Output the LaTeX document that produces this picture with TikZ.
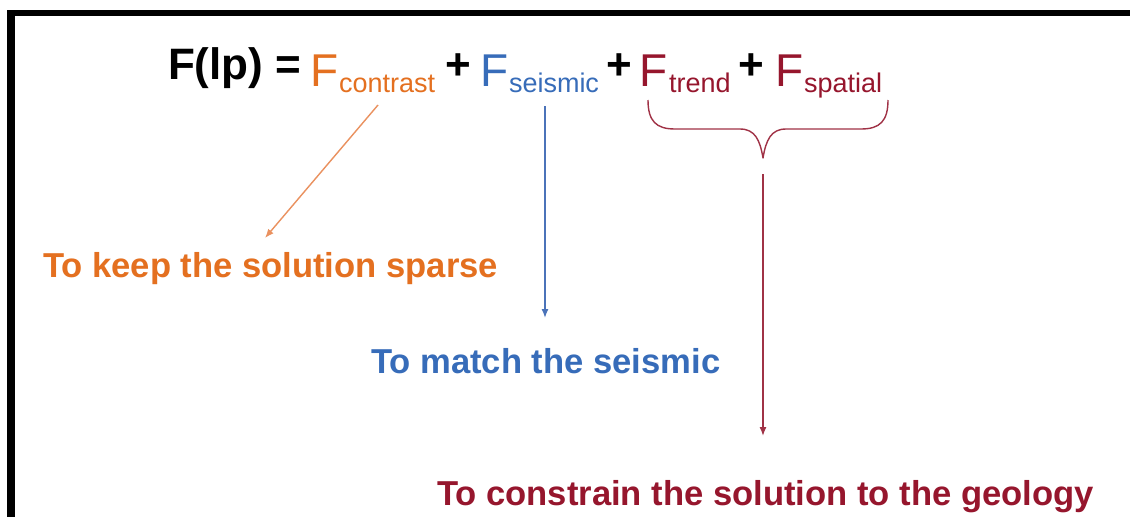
\documentclass[tikz,border=0pt]{standalone}
\usepackage{fontspec}
\setmainfont{Liberation Sans}
\usetikzlibrary{arrows.meta}
\definecolor{cOr}{RGB}{228,112,32}
\definecolor{cOrL}{RGB}{234,145,95}
\definecolor{cBl}{RGB}{55,108,185}
\definecolor{cBlL}{RGB}{75,115,185}
\definecolor{cRd}{RGB}{150,22,45}
\definecolor{cRdL}{RGB}{160,50,70}
\begin{document}
\begin{tikzpicture}[x=1pt,y=-1pt,
  txt/.style={inner sep=0pt, outer sep=0pt, anchor=base west},
  lhs/.style={txt, font=\fontsize{44}{50}\selectfont\bfseries},
  bigF/.style={txt, font=\fontsize{46}{52}\selectfont},
  sub/.style={txt, font=\fontsize{27}{32}\selectfont},
  lbl/.style={txt, font=\fontsize{34.6}{40}\selectfont\bfseries},
  conn/.style={line width=1.4pt, -{Latex[length=9pt,width=7pt]}},
  brace/.style={line width=1.4pt, cRdL, line join=round}]
\useasboundingbox (0,0) rectangle (1130,517);
\fill[white] (0,0) rectangle (1130,517);
% border
\fill[black] (7,10) rectangle (1130,16);
\fill[black] (7,10) rectangle (15,517);
% equation
\node[lhs] (lhs) at (168,79) {F(lp) =};
\node[bigF, text=cOr] (fc) at (310,86) {F};
\node[sub, text=cOr] (sc) at (339,92) {contrast};
\node[lhs] (p1) at (445,79) {+};
\node[bigF, text=cBl] (fs) at (480,86) {F};
\node[sub, text=cBl] (ss) at (509,92) {seismic};
\node[lhs] (p2) at (606,79) {+};
\node[bigF, text=cRd] (ft) at (639,86) {F};
\node[sub, text=cRd] (st) at (669,92) {trend};
\node[lhs] (p3) at (738,79) {+};
\node[bigF, text=cRd] (fsp) at (775,86) {F};
\node[sub, text=cRd] (ssp) at (804,92) {spatial};
% labels
\node[lbl, text=cOr] (l1) at (43,277) {To keep the solution sparse};
\node[lbl, text=cBl] (l2) at (371,373) {To match the seismic};
\node[lbl, text=cRd] (l3) at (437,505) {To constrain the solution to the geology};
% brace
\draw[brace] (648,100) .. controls (648,121) and (656,129) .. (675,129)
  -- (740,129) .. controls (755,129) and (760,140) .. (763,158)
  .. controls (766,140) and (771,129) .. (786,129)
  -- (861,129) .. controls (880,129) and (888,121) .. (888,100);
% connectors
\coordinate (a1) at (378,105);
\coordinate (a1e) at (265,238);
\coordinate (a2) at (545,106);
\coordinate (a2e) at (545,318);
\coordinate (a3) at (763,174);
\coordinate (a3e) at (763,436);
\draw[conn, cOrL] (a1) -- (a1e);
\draw[conn, cBlL] (a2) -- (a2e);
\draw[conn, cRdL] (a3) -- (a3e);
\end{tikzpicture}
\end{document}
